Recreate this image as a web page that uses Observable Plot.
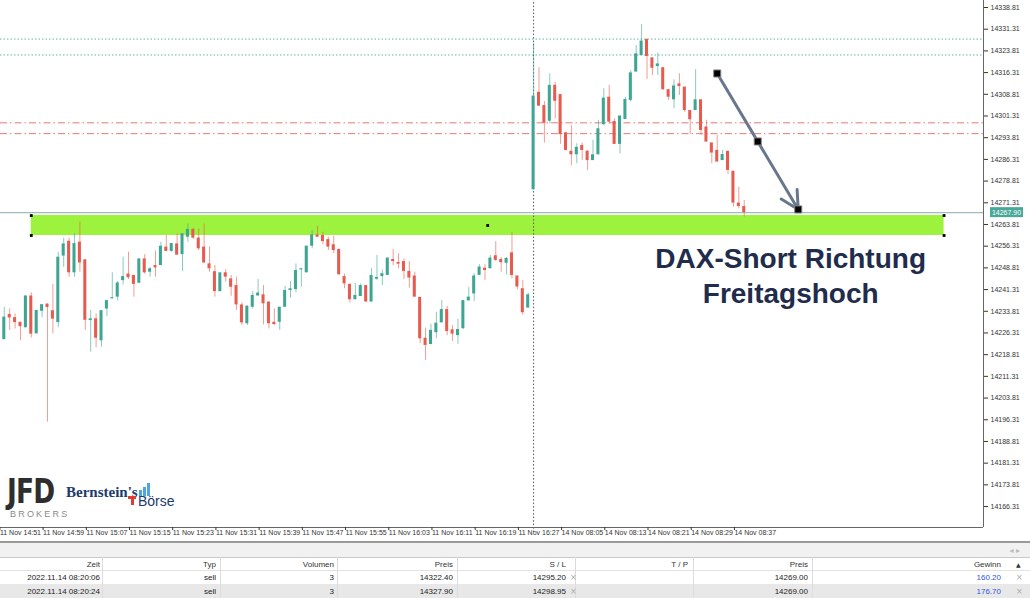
<!DOCTYPE html>
<html><head><meta charset="utf-8">
<script src="https://cdn.jsdelivr.net/npm/d3@7"></script>
<script src="https://cdn.jsdelivr.net/npm/@observablehq/plot@0.6"></script>
<style>
body{margin:0;background:#fff;font-family:"Liberation Sans",Arial,sans-serif;}
#wrap{position:relative;width:1030px;height:598px;overflow:hidden;background:#fff;}
#chart{position:absolute;left:0;top:0;}
.abs{position:absolute;white-space:nowrap;line-height:1;}
</style></head><body><div id="wrap"><div id="chart"></div><div id="extra"></div></div>
<script>
// ---- Candle data (1-minute DAX, 11 Nov 14:52 – 16:29, 14 Nov 08:00 – 08:39) ----
const opens = [14224.0,14232.7,14231.6,14230.0,14228.1,14239.1,14226.0,14233.8,14236.3,14234.0,
14229.9,14252.9,14258.0,14247.1,14257.7,14251.6,14230.6,14231.2,14223.6,14234.6,
14238.1,14238.7,14244.4,14246.7,14246.2,14243.5,14251.9,14247.3,14249.6,14249.6,
14256.0,14254.5,14257.1,14253.4,14259.4,14262.1,14259.1,14256.0,14250.2,14247.5,
14240.6,14247.1,14245.0,14242.7,14236.0,14229.5,14235.2,14239.1,14239.5,14237.0,
14230.0,14230.0,14235.2,14241.0,14241.3,14248.1,14247.1,14256.3,14260.2,14260.0,
14258.6,14256.8,14255.2,14245.8,14243.1,14237.8,14238.9,14242.7,14237.0,14244.9,
14245.8,14246.2,14251.7,14250.7,14251.0,14247.6,14246.0,14238.6,14224.5,14222.3,
14226.4,14229.8,14234.4,14227.4,14225.4,14227.8,14237.4,14239.8,14246.2,14248.7,
14248.5,14253.0,14251.7,14250.4,14254.0,14246.0,14241.6,14234.9,
14275.8,14309.5,14304.9,14299.5,14311.9,14308.7,14295.5,14289.1,14287.9,14291.1,
14289.1,14285.9,14287.9,14298.3,14307.8,14299.4,14291.5,14300.1,14306.7,14316.5,
14322.2,14327.8,14321.4,14318.4,14318.0,14310.4,14306.9,14312.4,14311.3,14303.2,
14303.2,14306.9,14297.5,14292.0,14289.4,14285.9,14289.1,14282.2,14271.2,14270.0];
const highs = [14235.2,14234.6,14232.9,14230.0,14239.1,14240.2,14234.1,14236.1,14236.3,14243.1,
14254.2,14259.1,14259.1,14260.6,14264.6,14251.6,14234.1,14232.9,14234.0,14237.5,
14247.1,14244.1,14252.5,14254.2,14246.2,14251.9,14253.4,14249.0,14254.6,14257.7,
14260.0,14257.2,14260.6,14260.6,14264.0,14262.5,14262.3,14264.0,14256.0,14249.6,
14247.1,14248.2,14246.2,14245.6,14236.7,14235.6,14240.6,14244.8,14242.7,14237.0,
14234.6,14235.2,14242.4,14244.1,14250.2,14248.5,14256.3,14261.7,14263.2,14261.1,
14259.4,14259.8,14255.2,14246.7,14243.3,14243.5,14243.3,14242.7,14248.5,14253.1,
14248.1,14252.2,14255.2,14253.7,14251.9,14251.0,14247.3,14238.6,14228.0,14229.3,
14233.5,14237.5,14235.5,14228.9,14231.0,14237.5,14242.0,14246.8,14249.9,14249.9,
14253.1,14257.9,14252.4,14252.4,14260.9,14246.0,14244.5,14240.1,
14326.5,14318.0,14306.3,14315.9,14313.0,14308.7,14295.5,14298.0,14291.7,14292.0,
14289.4,14292.9,14299.8,14310.7,14311.9,14300.3,14301.3,14307.8,14317.0,14325.7,
14332.9,14327.8,14321.4,14323.1,14318.0,14310.4,14313.8,14315.9,14311.3,14303.2,
14317.3,14306.9,14299.8,14292.0,14294.6,14289.4,14289.1,14282.2,14276.7,14272.1];
const lows = [14224.0,14227.2,14227.7,14223.6,14228.1,14224.6,14226.0,14231.6,14195.5,14226.0,
14228.1,14249.0,14245.6,14245.6,14247.3,14227.2,14219.7,14221.2,14221.4,14232.0,
14238.1,14237.4,14242.9,14244.8,14238.7,14243.5,14246.6,14245.6,14245.6,14249.6,
14254.5,14254.2,14253.2,14247.5,14257.7,14258.6,14254.8,14250.5,14247.3,14238.7,
14240.6,14243.9,14239.0,14234.1,14228.9,14228.9,14234.6,14239.1,14229.1,14227.7,
14228.9,14227.2,14235.2,14238.3,14240.2,14242.1,14247.1,14255.4,14259.4,14256.8,
14254.8,14253.7,14246.4,14241.6,14236.7,14237.8,14238.9,14237.0,14237.0,14244.5,
14242.7,14246.2,14249.6,14248.5,14244.8,14241.8,14238.7,14222.6,14216.8,14222.3,
14224.3,14229.8,14225.4,14223.4,14222.4,14227.5,14237.4,14237.2,14246.2,14244.5,
14248.5,14251.0,14247.3,14246.4,14245.0,14241.3,14232.4,14234.9,
14275.8,14304.7,14291.9,14298.6,14300.3,14291.5,14289.2,14284.1,14284.8,14285.9,
14282.5,14285.9,14287.9,14297.9,14298.6,14291.5,14288.2,14300.1,14306.2,14316.5,
14322.2,14313.9,14315.3,14315.3,14310.1,14306.7,14303.8,14308.4,14302.6,14294.9,
14303.2,14294.6,14292.3,14284.8,14285.4,14285.9,14281.1,14269.8,14269.2,14266.4];
const closes = [14231.8,14231.5,14229.9,14228.5,14239.1,14225.9,14234.1,14236.1,14235.1,14231.1,
14252.5,14257.1,14247.1,14257.2,14250.5,14230.7,14231.2,14224.5,14234.0,14237.5,
14238.3,14243.6,14245.8,14245.4,14243.1,14251.9,14247.1,14248.5,14248.8,14256.3,
14254.5,14257.2,14253.2,14260.6,14262.1,14259.1,14255.4,14250.5,14248.5,14240.6,
14247.1,14245.6,14242.1,14236.0,14229.8,14235.6,14239.3,14240.1,14236.4,14229.5,
14229.2,14235.2,14241.0,14241.6,14247.9,14248.5,14256.3,14260.2,14259.4,14257.9,
14256.0,14254.8,14246.4,14243.3,14237.8,14239.3,14242.7,14237.0,14246.2,14245.5,
14246.8,14252.2,14251.0,14250.1,14247.6,14245.3,14238.7,14224.3,14222.0,14227.2,
14229.7,14234.4,14226.8,14225.9,14227.5,14237.5,14238.7,14246.0,14249.1,14247.9,
14252.2,14251.4,14250.6,14252.1,14246.2,14242.2,14233.3,14239.5,
14308.2,14304.7,14298.8,14311.9,14306.4,14294.9,14289.4,14287.9,14290.5,14289.4,
14285.9,14287.9,14296.9,14307.5,14299.2,14291.5,14301.3,14307.0,14316.2,14322.8,
14327.2,14321.9,14317.8,14319.3,14310.4,14307.8,14311.7,14311.5,14303.2,14300.0,
14306.9,14296.3,14292.3,14288.5,14285.4,14288.0,14282.5,14271.2,14270.0,14267.9];

// tick labels
const yTicks = [14338.81,14331.31,14323.81,14316.31,14308.81,14301.31,14293.81,14286.31,14278.81,
14271.31,14263.81,14256.31,14248.81,14241.31,14233.81,14226.31,14218.81,14211.31,14203.81,
14196.31,14188.81,14181.31,14173.81,14166.31];
const xTickIndex = [0,8,16,24,32,40,48,56,64,72,80,88,96,104,112,120,128,136];
const xTickLabels = ["11 Nov 14:51","11 Nov 14:59","11 Nov 15:07","11 Nov 15:15","11 Nov 15:23",
"11 Nov 15:31","11 Nov 15:39","11 Nov 15:47","11 Nov 15:55","11 Nov 16:03","11 Nov 16:11",
"11 Nov 16:19","11 Nov 16:27","14 Nov 08:05","14 Nov 08:13","14 Nov 08:21","14 Nov 08:29","14 Nov 08:37"];
const firstIndex = 1;           // 11 Nov 14:52
const daySeparatorIndex = 99;   // 14 Nov 08:00
const bidPrice = 14267.90;
const entryPrices = [14322.40, 14327.90];
const stopPrices = [14295.20, 14298.95];
const zone = {i1: 6, i2: 175, lo: 14260.0, hi: 14266.9};
const trend = {i1: 133, p1: 14316.0, i2: 148, p2: 14269.0};
const noteText = "DAX-Short Richtung\nFreitagshoch";
const notePos = {i: 146.6, p: 14246.7};

// trade table
const tableCols = ["Zeit","Typ","Volumen","Preis","S / L","T / P","Preis","Gewinn"];
const tradeTimes = ["2022.11.14 08:20:06","2022.11.14 08:20:24"];
const tradeTypes = ["sell","sell"];
const tradeVolumes = ["3","3"];
const tradePrices = ["14322.40","14327.90"];
const tradeSL = ["14295.20","14298.95"];
const tradeTP = ["",""];
const tradeNow = ["14269.00","14269.00"];
const tradeProfit = ["160.20","176.70"];

const candles = opens.map((o,k)=>({i:k+firstIndex,o,h:highs[k],l:lows[k],c:closes[k]}));
const UP = "#3ea593", DN = "#e65b4e";
const col = d => d.c >= d.o ? UP : DN;
const FONT = "'Liberation Sans', Arial, sans-serif";

const chart = Plot.plot({
  width: 1030, height: 541,
  marginLeft: 0, marginRight: 47, marginTop: 0, marginBottom: 14,
  x: {type: "linear", domain: [0.3, 182.3]},
  y: {domain: [14159.07, 14341.23]},
  color: {type: "identity"},
  style: {background: "transparent", fontFamily: FONT},
  marks: [
    Plot.rect([zone], {x1: "i1", x2: "i2", y1: "lo", y2: "hi", fill: "#9df23d"}),
    Plot.ruleY(entryPrices, {stroke: "#63b5a9", strokeDasharray: "1.5,2"}),
    Plot.ruleY(stopPrices, {stroke: "#ea7a70", strokeDasharray: "7,3,1.5,3"}),
    Plot.ruleX([daySeparatorIndex], {y1: 14157.3, y2: 14341.23, stroke: "#555", strokeDasharray: "1.5,2"}),
    Plot.ruleY([bidPrice], {stroke: "#9fbcc2", strokeWidth: 1.3}),
    Plot.ruleX(candles, {x: "i", y1: "l", y2: "h", stroke: col, strokeOpacity: 0.6}),
    Plot.rect(candles, {x1: d => d.i - 0.28, x2: d => d.i + 0.28,
      y1: d => Math.min(d.o, d.c), y2: d => Math.max(d.o, d.c, Math.min(d.o, d.c) + 0.4), fill: col}),
    Plot.dot([[zone.i1, zone.hi],[zone.i1, zone.lo],[zone.i2, zone.hi],[zone.i2, zone.lo],[(zone.i1+zone.i2)/2,(zone.lo+zone.hi)/2]],
      {x: d => d[0], y: d => d[1], symbol: "square", r: 1.6, fill: "#000"}),
    Plot.arrow([trend], {x1: "i1", y1: "p1", x2: "i2", y2: "p2", stroke: "#68778c", strokeWidth: 3, headLength: 10, headAngle: 55}),
    Plot.dot([[trend.i1, trend.p1],[(trend.i1+trend.i2)/2,(trend.p1+trend.p2)/2],[trend.i2, trend.p2]],
      {x: d => d[0], y: d => d[1], symbol: "square", r: 4, fill: "#000", stroke: "#888", strokeWidth: 1}),
    Plot.text([notePos], {x: "i", y: "p", text: () => noteText, fontSize: 28, fontWeight: "bold",
      fill: "#1f2c4c", lineHeight: 1.25, fontFamily: FONT}),
    Plot.ruleX([182.3], {stroke: "#666"}),
    Plot.ruleY([14159.07], {stroke: "#666"}),
    Plot.axisY({anchor: "right", ticks: yTicks, tickFormat: d => d.toFixed(2), tickSize: 4,
      tickPadding: 3, fontSize: 7, label: null, color: "#333"}),
    Plot.axisX({ticks: xTickIndex, tickFormat: d => xTickLabels[xTickIndex.indexOf(d)], tickSize: 3,
      tickPadding: 0, textAnchor: "start", dx: 1, fontSize: 7, label: null, color: "#333"})
  ]
});
document.getElementById("chart").appendChild(chart);

// bid price label on axis
(function(){
  const svg = d3.select(chart);
  const yb = chart.scale("y").apply(bidPrice);
  const xr = chart.scale("x").apply(182.3);
  const g = svg.append("g");
  g.append("rect").attr("x", xr + 7).attr("y", yb - 5).attr("width", 33).attr("height", 10).attr("fill", "#4aa89a");
  g.append("text").attr("x", xr + 23.5).attr("y", yb + 2.5).attr("text-anchor", "middle")
    .attr("font-size", 7).attr("fill", "#fff").attr("font-family", FONT).text(bidPrice.toFixed(2));
})();

// logos and table (HTML)
const ex = document.getElementById("extra");
function span(txt, css){ const s = document.createElement("div"); s.className = "abs"; s.style.cssText = css; s.textContent = txt; ex.appendChild(s); return s; }
span("JFD", "left:7px;top:479px;font:bold 33px 'DejaVu Sans',sans-serif;line-height:25px;height:25px;color:#2e2e2e;letter-spacing:-1px;transform:scaleX(0.8);transform-origin:left;");
span("BROKERS", "left:10px;top:510px;font:9px 'Liberation Sans',sans-serif;line-height:9px;color:#8a8a8a;letter-spacing:2.2px;");
span("Bernstein's", "left:66px;top:485px;font:bold 15px 'Liberation Serif',serif;line-height:14px;color:#1d3a6b;");
// small bars icon
[[0,6],[4,9],[8,13]].forEach(([dx,h]) => span("", `left:${139+dx}px;top:${496-h}px;width:2.5px;height:${h}px;background:#4ea6e0;`));
span("", "left:128px;top:496px;width:8px;height:3px;background:#e13c30;");
span("", "left:130.5px;top:499px;width:3px;height:6px;background:#e13c30;");
span("Börse", "left:138px;top:494px;font:14px 'Liberation Sans',sans-serif;line-height:14px;color:#1d3a6b;");

// table
span("", "left:0;top:541px;width:1030px;height:2px;background:#9a9a9a;");
span("", "left:0;top:543px;width:1030px;height:14px;background:#f1f1f1;");
span("◂  ▸", "right:10px;top:546px;font:8px 'DejaVu Sans',sans-serif;color:#bbb;");
span("", "left:0;top:557px;width:1030px;height:1px;background:#c9c9c9;");
span("", "left:0;top:570px;width:1030px;height:1px;background:#e2e2e2;");
span("", "left:0;top:584px;width:1030px;height:14px;background:#e8e8e8;");
const colRight = [100, 216, 334, 453, 566, 688, 808, 1001];
const colSep = [102, 220, 337, 457, 575, 693, 812];
colSep.forEach(x => span("", `left:${x}px;top:557px;width:1px;height:41px;background:#dcdcdc;`));
tableCols.forEach((t,k) => span(t, `right:${1030-colRight[k]}px;top:560px;font:8px 'Liberation Sans',sans-serif;color:#333;`));
span("▲", "left:1016px;top:561px;font:6px 'DejaVu Sans',sans-serif;color:#333;");
const rowsTop = [573, 587];
rowsTop.forEach((top, r) => {
  const vals = [tradeTimes[r], tradeTypes[r], tradeVolumes[r], tradePrices[r], tradeSL[r], tradeTP[r], tradeNow[r], tradeProfit[r]];
  vals.forEach((v,k) => span(v, `right:${1030-colRight[k]}px;top:${top}px;font:8px 'Liberation Sans',sans-serif;color:${k===7?'#2f55e0':'#222'};`));
  span("×", `left:570px;top:${top}px;font:8px 'DejaVu Sans',sans-serif;color:#aaa;`);
  span("×", `left:1016px;top:${top}px;font:8px 'DejaVu Sans',sans-serif;color:#aaa;`);
});
</script>
</body></html>
